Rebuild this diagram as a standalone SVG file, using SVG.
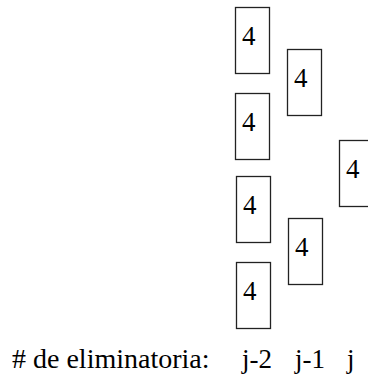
<svg xmlns="http://www.w3.org/2000/svg" width="368" height="375" viewBox="0 0 368 375">
<style>
.box{fill:#fff;stroke:#222;stroke-width:1.3}
.t{font-family:'Liberation Serif','Times New Roman','DejaVu Serif',serif;font-size:27px;fill:#000}
.lbl{font-size:28px}
</style>
<rect width="368" height="375" fill="#fff"/>
<g id="n1"><rect class="box" x="235.5" y="7.5" width="34" height="66"/><text class="t" x="242" y="45">4</text></g>
<g id="n2"><rect class="box" x="287.5" y="49.5" width="34" height="66"/><text class="t" x="294" y="87">4</text></g>
<g id="n3"><rect class="box" x="235.5" y="93.5" width="34" height="66"/><text class="t" x="242" y="131">4</text></g>
<g id="n4"><rect class="box" x="339.5" y="140.5" width="34" height="66"/><text class="t" x="346" y="178">4</text></g>
<g id="n5"><rect class="box" x="236.5" y="176.5" width="34" height="66"/><text class="t" x="243" y="214">4</text></g>
<g id="n6"><rect class="box" x="288.5" y="218.5" width="34" height="66"/><text class="t" x="295" y="256">4</text></g>
<g id="n7"><rect class="box" x="236.5" y="262.5" width="34" height="66"/><text class="t" x="243" y="300">4</text></g>
<g id="connectors"></g>
<g id="labels">
<text class="t lbl" x="12" y="368"># de eliminatoria:</text>
<text class="t" x="242" y="368">j-2</text>
<text class="t" x="295" y="368">j-1</text>
<text class="t" x="347" y="368">j</text>
</g>
</svg>
